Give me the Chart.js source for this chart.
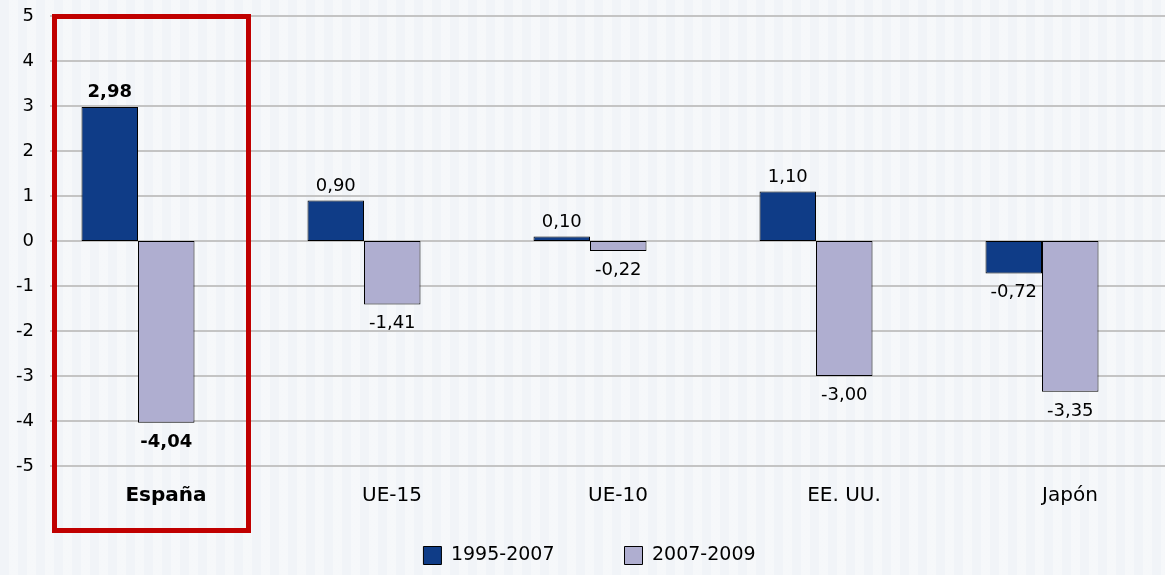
<!DOCTYPE html>
<html>
<head>
<meta charset="utf-8">
<script src="https://cdn.jsdelivr.net/npm/chart.js@4.4.1/dist/chart.umd.min.js"></script>
<style>
  html, body { margin: 0; padding: 0; }
  body {
    width: 1165px; height: 575px; overflow: hidden;
    background-color: #f1f4f8;
    background-image: repeating-linear-gradient(90deg, rgba(255,255,255,0) 0px, rgba(255,255,255,0) 9px, rgba(255,255,255,0.35) 9px, rgba(255,255,255,0.35) 18px);
  }
  #wrap { position: relative; width: 1165px; height: 575px; }
</style>
</head>
<body>
<div id="wrap"><canvas id="c" width="1165" height="575"></canvas></div>
<script>
// ---- data ----
const categories = ['España', 'UE-15', 'UE-10', 'EE. UU.', 'Japón'];
const seriesNames = ['1995-2007', '2007-2009'];
const values1995_2007 = [2.98, 0.90, 0.10, 1.10, -0.72];
const values2007_2009 = [-4.04, -1.41, -0.22, -3.00, -3.35];
const yTickValues = [5, 4, 3, 2, 1, 0, -1, -2, -3, -4, -5];
const highlightCategory = 'España';

const FONT = '"DejaVu Sans", Verdana, sans-serif';
Chart.defaults.color = '#000';
Chart.defaults.font.family = FONT;

const fmt = v => v.toFixed(2).replace('.', ',');

const gridPlugin = {
  id: 'extGrid',
  beforeDatasetsDraw(chart) {
    const ys = chart.scales.y, ctx = chart.ctx;
    ctx.save();
    ctx.strokeStyle = '#c4c4c4';
    ctx.lineWidth = 2;
    yTickValues.forEach(v => {
      const y = Math.round(ys.getPixelForValue(v));
      ctx.beginPath();
      ctx.moveTo(50, y);
      ctx.lineTo(chart.width, y);
      ctx.stroke();
    });
    ctx.restore();
  }
};

const labelPlugin = {
  id: 'valLabels',
  afterDatasetsDraw(chart) {
    const ctx = chart.ctx;
    ctx.save();
    ctx.textAlign = 'center';
    ctx.textBaseline = 'alphabetic';
    ctx.fillStyle = '#000';
    chart.data.datasets.forEach((ds, di) => {
      const meta = chart.getDatasetMeta(di);
      meta.data.forEach((bar, i) => {
        const v = ds.data[i];
        const bold = categories[i] === highlightCategory;
        ctx.font = (bold ? 'bold ' : '') + '18px ' + FONT;
        const y = v >= 0 ? bar.y - 10 : bar.y + 24;
        ctx.fillText(fmt(v), bar.x, y);
      });
    });
    ctx.restore();
  }
};

const boxPlugin = {
  id: 'highlightBox',
  afterDraw(chart) {
    const xs = chart.scales.x, ys = chart.scales.y, ctx = chart.ctx;
    const idx = categories.indexOf(highlightCategory);
    const catW = xs.width / categories.length;
    const right = xs.getPixelForValue(idx) + catW / 2 - 2.5;
    ctx.save();
    ctx.strokeStyle = '#c00000';
    ctx.lineWidth = 5;
    ctx.strokeRect(54.5, ys.top + 0.5, right - 54.5, 530.5 - (ys.top + 0.5));
    ctx.restore();
  }
};

const legendShift = {
  id: 'legendShift',
  beforeDraw(chart) {
    const lg = chart.legend;
    if (lg && !lg._shifted) { lg.left += 12; lg.right += 12; lg._shifted = true; }
  },
  afterLayout(chart) { if (chart.legend) chart.legend._shifted = false; }
};

new Chart(document.getElementById('c'), {
  type: 'bar',
  data: {
    labels: categories,
    datasets: [
      {
        label: seriesNames[0],
        data: values1995_2007,
        backgroundColor: '#0f3c87',
        borderColor: '#000',
        borderWidth: 1,
        borderSkipped: false,
        categoryPercentage: 0.5,
        barPercentage: 1.0
      },
      {
        label: seriesNames[1],
        data: values2007_2009,
        backgroundColor: '#afaed0',
        borderColor: '#000',
        borderWidth: 1,
        borderSkipped: false,
        categoryPercentage: 0.5,
        barPercentage: 1.0
      }
    ]
  },
  options: {
    responsive: false,
    animation: false,
    events: [],
    layout: { padding: { top: 16, right: 10, left: 0, bottom: 0 } },
    plugins: {
      tooltip: { enabled: false },
      legend: {
        position: 'bottom',
        labels: {
          boxWidth: 18,
          boxHeight: 18,
          padding: 70,
          font: { size: 19, family: FONT },
          color: '#000'
        }
      }
    },
    scales: {
      x: {
        grid: { display: false, drawTicks: false },
        border: { display: false },
        ticks: {
          mirror: true,
          padding: -42,
          labelOffset: 28,
          font: ctx => ({ size: 20, family: FONT, weight: categories[ctx.index] === highlightCategory ? 'bold' : 'normal' }),
          color: '#000'
        },
        afterFit(scale) { scale.height = 10; }
      },
      y: {
        min: -5,
        max: 5,
        grid: { display: false, drawTicks: false },
        border: { display: false },
        afterBuildTicks(scale) { scale.ticks = yTickValues.map(v => ({ value: v })); },
        ticks: {
          mirror: true,
          crossAlign: 'far',
          padding: -9,
          font: { size: 18, family: FONT },
          color: '#000',
          callback: v => String(v)
        },
        afterFit(scale) { scale.width = 25; }
      }
    }
  },
  plugins: [gridPlugin, labelPlugin, boxPlugin, legendShift]
});
</script>
</body>
</html>
